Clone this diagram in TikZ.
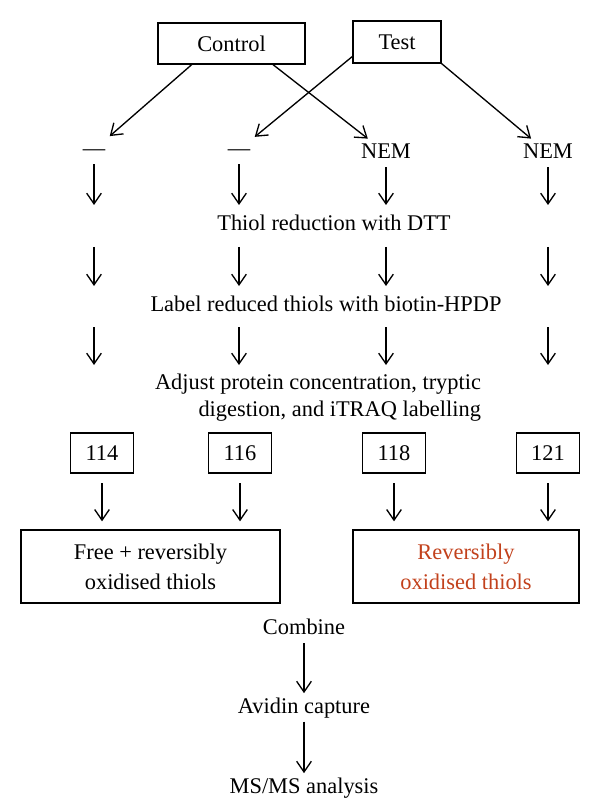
\documentclass[tikz,border=0pt]{standalone}
\usepackage{fontspec}
\setmainfont{Liberation Serif}
\usepackage{tikz, xcolor}
\usetikzlibrary{shapes,arrows.meta}
\definecolor{oxred}{RGB}{194,65,28}

\begin{document}
\begin{tikzpicture}[thick, x=0.75pt, y=-0.75pt]
\tikzstyle{vertexr}=[rectangle, draw=black, line width=1pt, inner sep=0pt, align=center, font=\fontsize{16.8}{22.5}\selectfont]
\tikzstyle{vertext}=[inner sep=3pt, text height=11.5pt, text depth=3pt, font=\fontsize{16.8}{21}\selectfont]
\tikzstyle{vertexm}=[inner sep=0pt, align=right, font=\fontsize{16.8}{20}\selectfont]
\tikzstyle{drawstyle}=[line width=1pt, -{Straight Barb[length=8pt,width=11pt]}]

\useasboundingbox (0,0) rectangle (600,805);

\node[vertexr, minimum width=110.25pt, minimum height=30.75pt] (G1x0) at (231.5,43.5) {Control};
\node[vertexr, minimum width=66pt, minimum height=31.5pt] (G2x0) at (397,42) {Test};
\node[vertext, anchor=base] (G0x1) at (94,155.5) {\textemdash};
\node[vertext, anchor=base] (G1x1) at (239,155.5) {\textemdash};
\node[vertext, anchor=base] (G2x1) at (386,158.5) {NEM};
\node[vertext, anchor=base] (G3x1) at (548,158.5) {NEM};
\draw[drawstyle] (G1x0.208) -- (G0x1);
\draw[drawstyle] (G1x0.333) -- (G2x1);
\draw[drawstyle] (G2x0.198) -- (G1x1);
\draw[drawstyle] (G2x0.south east) -- (G3x1);
\coordinate (E0x1) at (94,205);
\coordinate (E1x1) at (239,205);
\coordinate (E2x1) at (386,205);
\coordinate (E3x1) at (548,205);
\draw[drawstyle] (G0x1) -- (E0x1);
\draw[drawstyle] (G1x1) -- (E1x1);
\draw[drawstyle] (G2x1) -- (E2x1);
\draw[drawstyle] (G3x1) -- (E3x1);
\node[vertext, anchor=base] (G1x2) at (334,230.5) {Thiol reduction with DTT};
\coordinate (S0x2) at (94,247);
\coordinate (S1x2) at (239,247);
\coordinate (S2x2) at (386,247);
\coordinate (S3x2) at (548,247);
\coordinate (E0x2) at (94,286);
\coordinate (E1x2) at (239,286);
\coordinate (E2x2) at (386,286);
\coordinate (E3x2) at (548,286);
\draw[drawstyle] (S0x2) -- (E0x2);
\draw[drawstyle] (S1x2) -- (E1x2);
\draw[drawstyle] (S2x2) -- (E2x2);
\draw[drawstyle] (S3x2) -- (E3x2);
\node[vertext, anchor=base] (G1x3) at (326,311.5) {Label reduced thiols with biotin-HPDP};
\coordinate (S0x3) at (94,327);
\coordinate (S1x3) at (239,327);
\coordinate (S2x3) at (386,327);
\coordinate (S3x3) at (548,327);
\coordinate (E0x3) at (94,365);
\coordinate (E1x3) at (239,365);
\coordinate (E2x3) at (386,365);
\coordinate (E3x3) at (548,365);
\draw[drawstyle] (S0x3) -- (E0x3);
\draw[drawstyle] (S1x3) -- (E1x3);
\draw[drawstyle] (S2x3) -- (E2x3);
\draw[drawstyle] (S3x3) -- (E3x3);
\node[vertexm] (G1x4) at (318,397.5) {Adjust protein concentration, tryptic\\digestion, and iTRAQ labelling};
\node[vertexr, minimum width=47.25pt, minimum height=30pt] (G0x5) at (102,453) {114};
\node[vertexr, minimum width=47.25pt, minimum height=30pt] (G1x5) at (240,453) {116};
\node[vertexr, minimum width=47.25pt, minimum height=30pt] (G2x5) at (394,453) {118};
\node[vertexr, minimum width=47.25pt, minimum height=30pt] (G3x5) at (548,453) {121};
\node[vertexr, minimum width=194.25pt, minimum height=54.75pt] (G0x6) at (150.5,566.5) {Free + reversibly\\oxidised thiols};
\node[vertexr, minimum width=169.5pt, minimum height=54.75pt, text=oxred] (G2x6) at (466,566.5) {Reversibly\\oxidised thiols};
\draw[drawstyle, shorten <=7pt, shorten >=6pt] (G0x5) -- (G0x5 |- G0x6.north);
\draw[drawstyle, shorten <=7pt, shorten >=6pt] (G1x5) -- (G1x5 |- G0x6.north);
\draw[drawstyle, shorten <=7pt, shorten >=6pt] (G2x5) -- (G2x5 |- G2x6.north);
\draw[drawstyle, shorten <=7pt, shorten >=6pt] (G3x5) -- (G3x5 |- G2x6.north);
\node[vertext, anchor=base] (G1x7) at (304,634.5) {Combine};
\node[vertext, anchor=base] (G1x8) at (304,713) {Avidin capture};
\node[vertext, anchor=base] (G1x9) at (304,793) {MS/MS analysis};
\draw[drawstyle] (G1x7) -- (G1x8);
\draw[drawstyle] (G1x8) -- (G1x9);
\end{tikzpicture}
\end{document}
